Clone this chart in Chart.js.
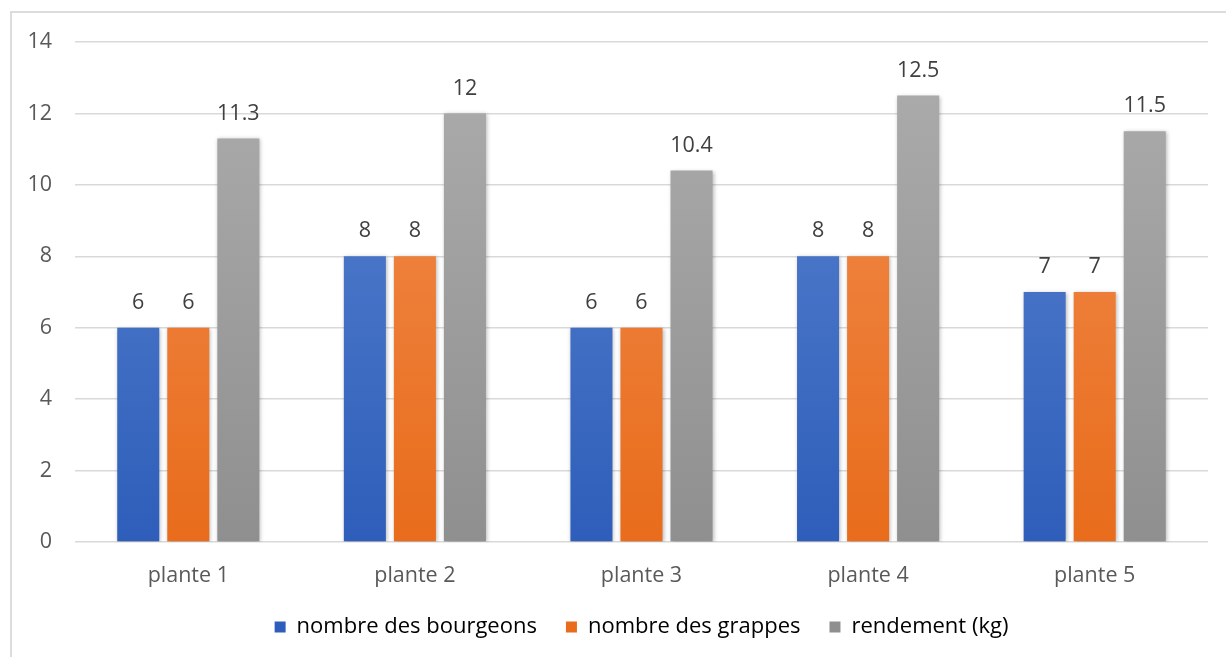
<!DOCTYPE html>
<html>
<head>
<meta charset="utf-8">
<script src="https://cdn.jsdelivr.net/npm/chart.js@4"></script>
<style>
  html, body { margin: 0; padding: 0; background: #fff; overflow: hidden; }
  #frame {
    position: absolute; left: 10px; top: 11px; width: 1400px; height: 800px;
    border: 2px solid #dcdcdc; box-sizing: border-box;
  }
  #wrap { position: absolute; left: 0; top: 0; width: 1226px; height: 657px; }
</style>
</head>
<body>
<div id="frame"></div>
<div id="wrap"><canvas id="chart"></canvas></div>
<script>
const categories = ['plante 1', 'plante 2', 'plante 3', 'plante 4', 'plante 5'];
const bourgeons = [6, 8, 6, 8, 7];
const grappes = [6, 8, 6, 8, 7];
const rendement = [11.3, 12, 10.4, 12.5, 11.5];
const yTicks = [0, 2, 4, 6, 8, 10, 12, 14];

const FONT = '"Open Sans", "Noto Sans", sans-serif';
const SIZE = 21.5;

// top colour, bottom colour for each series
const palette = [
  ['#5b85d0', '#2e5eba'],
  ['#f28e52', '#e86c1b'],
  ['#adadad', '#8f8f8f'],
];

function gradient(idx) {
  return (context) => {
    const { chart } = context;
    const area = chart.chartArea;
    if (!area) return palette[idx][1];
    const g = chart.ctx.createLinearGradient(0, area.top, 0, area.bottom);
    g.addColorStop(0, palette[idx][0]);
    g.addColorStop(1, palette[idx][1]);
    return g;
  };
}

const barShadow = {
  id: 'barShadow',
  beforeDatasetDraw(chart) {
    const ctx = chart.ctx;
    ctx.save();
    ctx.shadowColor = 'rgba(0,0,0,0.28)';
    ctx.shadowBlur = 4;
    ctx.shadowOffsetX = 1;
    ctx.shadowOffsetY = 1;
  },
  afterDatasetDraw(chart) {
    chart.ctx.restore();
  },
};

const valueLabels = {
  id: 'valueLabels',
  afterDatasetsDraw(chart) {
    const ctx = chart.ctx;
    ctx.save();
    ctx.font = `${SIZE}px ${FONT}`;
    ctx.fillStyle = '#404040';
    ctx.textAlign = 'center';
    ctx.textBaseline = 'middle';
    chart.data.datasets.forEach((ds, i) => {
      chart.getDatasetMeta(i).data.forEach((bar, j) => {
        ctx.fillText(String(ds.data[j]), bar.x, bar.y - 25);
      });
    });
    ctx.restore();
  },
};

new Chart(document.getElementById('chart'), {
  type: 'bar',
  data: {
    labels: categories,
    datasets: [
      { label: 'nombre des bourgeons', data: bourgeons, backgroundColor: gradient(0) },
      { label: 'nombre des grappes', data: grappes, backgroundColor: gradient(1) },
      { label: 'rendement (kg)', data: rendement, backgroundColor: gradient(2) },
    ],
  },
  options: {
    responsive: true,
    maintainAspectRatio: false,
    animation: false,
    categoryPercentage: 0.6625,
    barPercentage: 0.84,
    layout: { padding: { top: 42, right: 18, bottom: 9, left: 0 } },
    scales: {
      x: {
        grid: { display: false, drawTicks: false },
        border: { display: false },
        ticks: { color: '#595959', font: { family: FONT, size: SIZE }, padding: 21 },
        afterFit: (axis) => { axis.height = 45; },
      },
      y: {
        min: 0,
        max: 14,
        afterBuildTicks: (axis) => { axis.ticks = yTicks.map((v) => ({ value: v })); },
        grid: { color: '#d9d9d9', lineWidth: 1.5, drawTicks: false },
        border: { display: false },
        ticks: { color: '#595959', font: { family: FONT, size: SIZE }, padding: 23 },
        afterFit: (axis) => { axis.width = 75; },
      },
    },
    plugins: {
      legend: {
        position: 'bottom',
        fullSize: false,
        labels: {
          color: '#595959',
          font: { family: FONT, size: 22 },
          boxWidth: 11,
          boxHeight: 11,
          padding: 29,
          generateLabels: (chart) => chart.data.datasets.map((ds, i) => ({
            text: ds.label,
            fillStyle: palette[i][1],
            strokeStyle: palette[i][1],
            lineWidth: 0,
            datasetIndex: i,
          })),
        },
      },
      tooltip: { enabled: false },
    },
  },
  plugins: [barShadow, valueLabels],
});
</script>
</body>
</html>
